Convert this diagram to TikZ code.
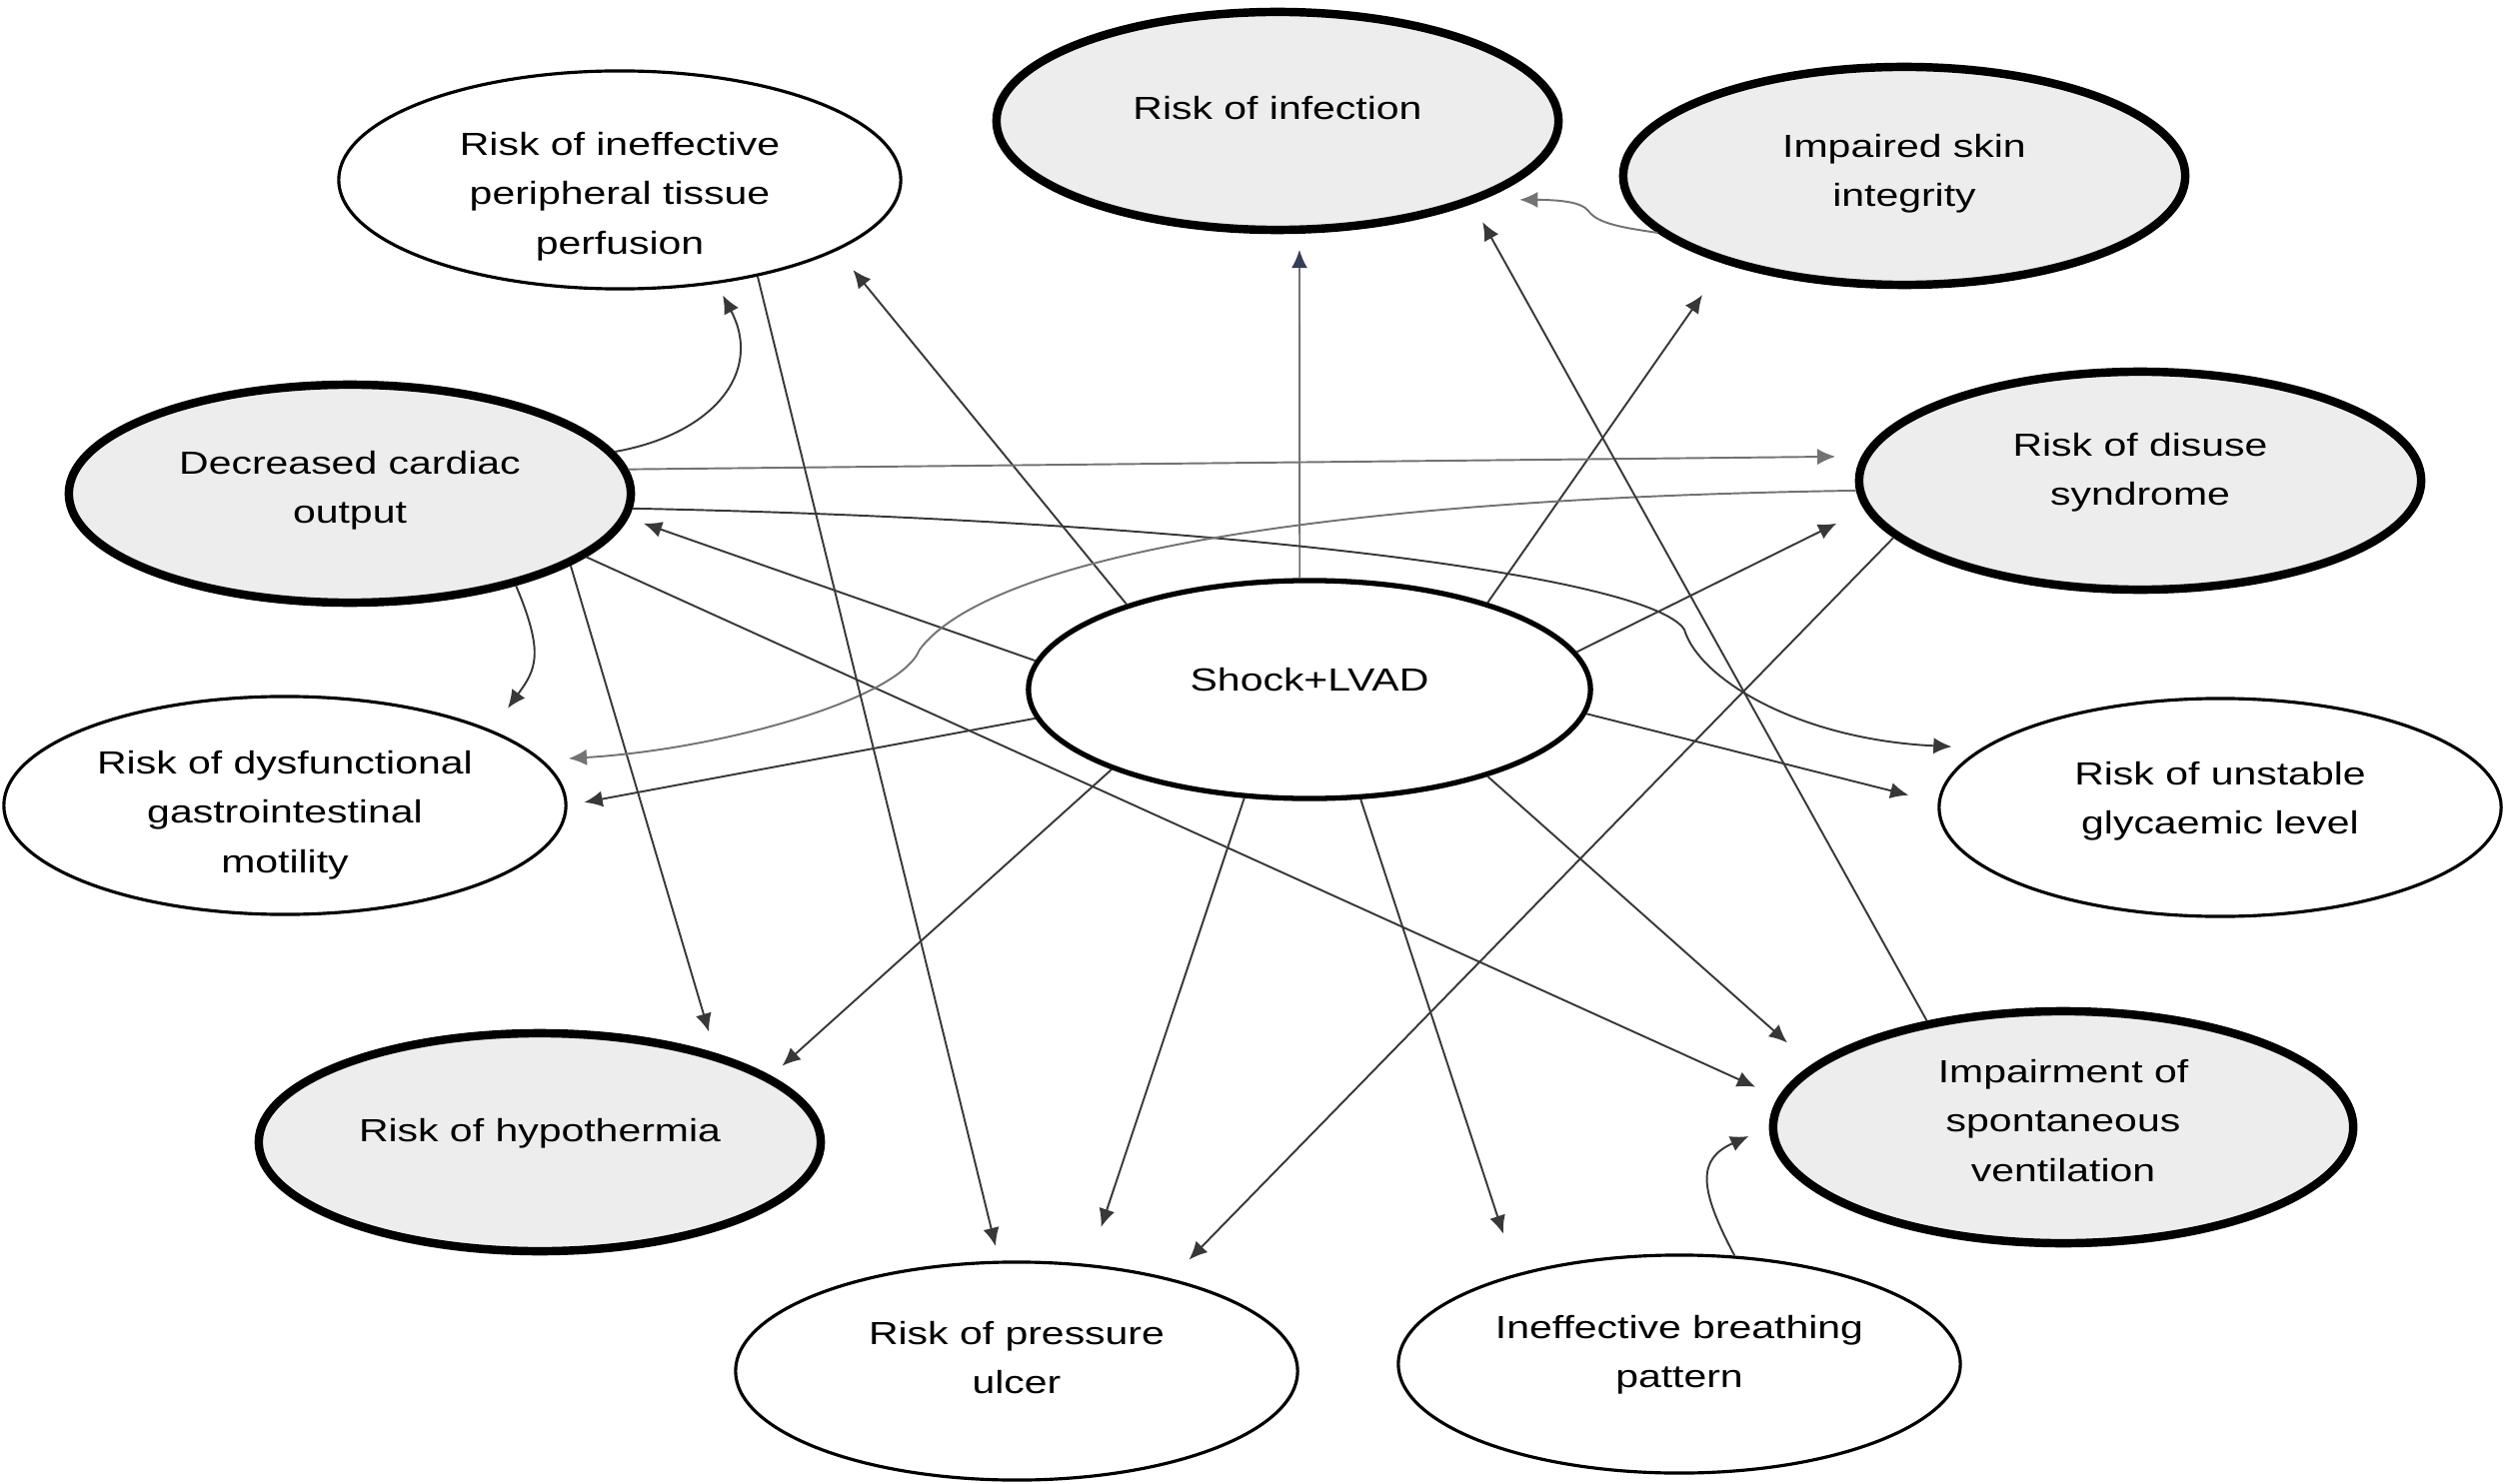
\documentclass[tikz,border=0pt]{standalone}
\usepackage{fontspec}
\setmainfont{Liberation Sans}[FakeStretch=1.28]
\usetikzlibrary{arrows.meta,shapes.geometric}
\definecolor{NodeClr}{gray}{0.93}
\definecolor{LinkClr}{gray}{0.22}
\definecolor{SoftClr}{gray}{0.45}
\definecolor{TipClr}{rgb}{0.2,0.24,0.34}
\newcommand{\dxtext}[2][0pt]{\raisebox{#1}[\height][\depth]{\begin{tabular}{@{}c@{}}#2\end{tabular}}}

\begin{document}
\begin{tikzpicture}[x=0.01cm,y=-0.01cm,
  dgn/.style={ellipse,draw,inner sep=0pt,minimum width=5.62cm,minimum height=2.18cm,font=\fontsize{9.1}{14}\selectfont},
  risk/.style={dgn,line width=0.9pt,fill=white},
  prob/.style={dgn,line width=2.4pt,fill=NodeClr},
  core/.style={dgn,line width=1.5pt,fill=white},
  link/.style={draw=LinkClr,line width=0.55pt,-{Latex[length=5.2pt,width=4.6pt]}},
  soft/.style={link,draw=SoftClr}]

\useasboundingbox (0,0) rectangle (2508,1485);

\node[risk] (perf) at (620,180) {\dxtext[-1.5mm]{Risk of ineffective\\peripheral tissue\\perfusion}};
\node[prob] (infect) at (1278,121) {\dxtext[1.1mm]{Risk of infection}};
\node[prob] (skin) at (1905,176) {\dxtext[0.4mm]{Impaired skin\\integrity}};
\node[prob] (dco) at (350,494) {\dxtext[0.5mm]{Decreased cardiac\\output}};
\node[prob] (disuse) at (2141,481) {\dxtext[1mm]{Risk of disuse\\syndrome}};
\node[core] (shock) at (1310,690) {\dxtext[0.8mm]{Shock+LVAD}};
\node[risk] (gi) at (285,806) {\dxtext[-0.8mm]{Risk of dysfunctional\\gastrointestinal\\motility}};
\node[risk] (glyc) at (2221,808) {\dxtext[0.8mm]{Risk of unstable\\glycaemic level}};
\node[prob] (hypo) at (540,1143) {\dxtext[1mm]{Risk of hypothermia}};
\node[prob,minimum width=5.8cm,minimum height=2.32cm] (vent) at (2064,1128) {\dxtext[0.5mm]{Impairment of\\spontaneous\\ventilation}};
\node[risk] (ulcer) at (1017,1372) {\dxtext[1.2mm]{Risk of pressure\\ulcer}};
\node[risk] (breath) at (1680,1365) {\dxtext[1.1mm]{Ineffective breathing\\pattern}};

\coordinate (kink) at (1685,630);
\coordinate (bend) at (920,650);
\coordinate (wig) at (1589,211);

\draw[link,shorten >=2.5mm] (shock.155) -- (perf.-18);
\draw[soft,-{Latex[length=5.2pt,width=4.6pt,color=TipClr]},shorten >=1.6mm] (shock.95) -- (infect.-79);
\draw[link,shorten >=3.8mm] (shock.26) -- (skin.-154);
\draw[link,shorten >=3.1mm] (shock.8) -- (disuse.-174);
\draw[link,shorten >=3mm] (shock.-5) -- (glyc.179);
\draw[link,shorten >=3.3mm] (shock.-26) -- (vent.166);
\draw[link,shorten >=4.2mm] (shock.-65) -- (breath.151);
\draw[link,shorten >=3.9mm] (shock.-121) -- (ulcer.56);
\draw[link,shorten >=1.5mm] (shock.-158) -- (hypo.16);
\draw[link,shorten >=1.7mm] (shock.-174) -- (gi.0);
\draw[link,shorten >=1.6mm] (shock.174) -- (dco.-5);

\draw[link,shorten >=1.3mm] (dco.9) to[out=10,in=-62,looseness=1.3] (perf.-47);
\draw[soft,shorten >=2.6mm] (dco.5) -- (disuse.175);
\draw[link,shorten >=3mm] (dco.-3) .. controls (1200,520) and (1650,575) .. (kink)
  .. controls (1700,680) and (1800,740) .. (glyc.166);
\draw[link,shorten >=2.7mm] (dco.-29) to[out=-67,in=54,looseness=1.3] (gi.20);
\draw[link,shorten >=2.2mm] (dco.-18) -- (hypo.27);
\draw[link,shorten >=2.5mm] (dco.-15) -- (vent.174);

\draw[soft,shorten >=2.6mm] (disuse.-178) .. controls (1250,500) and (980,570) .. (bend)
  .. controls (900,700) and (720,750) .. (gi.10);
\draw[link,shorten >=2.6mm] (disuse.-167) -- (ulcer.31);
\draw[link,shorten >=1.5mm] (perf.-35) -- (ulcer.99);
\draw[link,shorten >=2.1mm] (vent.142) -- (infect.-23);
\draw[soft,shorten >=3.7mm] (skin.-167) .. controls (1625,228) and (1598,224) .. (wig)
  .. controls (1582,202) and (1560,200) .. (infect.-21);
\draw[link,shorten >=2.2mm] (breath.63) to[out=118,in=-156,looseness=1.5] (vent.180);

\end{tikzpicture}
\end{document}
